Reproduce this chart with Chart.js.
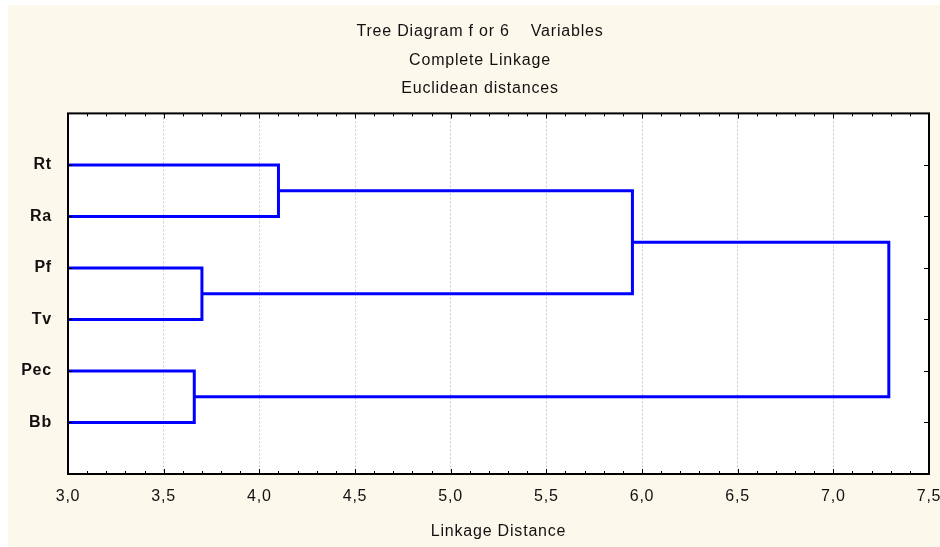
<!DOCTYPE html>
<html>
<head>
<meta charset="utf-8">
<title>Tree Diagram</title>
<script src="https://cdn.jsdelivr.net/npm/chart.js@4.4.1/dist/chart.umd.min.js"></script>
<style>
html, body { margin: 0; padding: 0; background: #fff; }
canvas { display: block; }
</style>
</head>
<body>
<canvas id="tree-chart" width="940" height="547"></canvas>
<script>
// leaves, top to bottom
var leaves = ['Rt', 'Ra', 'Pf', 'Tv', 'Pec', 'Bb'];
// merges: cluster ids 0-5 are leaves, 6+ are earlier merges in order
var mergeLeft = [0, 2, 4, 6, 9];
var mergeRight = [1, 3, 5, 7, 8];
var mergeHeight = [4.10, 3.70, 3.66, 5.95, 7.29];
var xTickValues = [3.0, 3.5, 4.0, 4.5, 5.0, 5.5, 6.0, 6.5, 7.0, 7.5];

var xMin = xTickValues[0];
var xMax = xTickValues[xTickValues.length - 1];
var FONT = '"Liberation Sans", Arial, sans-serif';

// node positions (distance, row)
var nodeX = [], nodeY = [];
leaves.forEach(function (l, i) { nodeX.push(xMin); nodeY.push(i + 1); });

var datasets = [];
for (var k = 0; k < mergeHeight.length; k++) {
    var a = mergeLeft[k], b = mergeRight[k], h = mergeHeight[k];
    datasets.push({
        data: [
            {x: nodeX[a], y: nodeY[a]},
            {x: h, y: nodeY[a]},
            {x: h, y: nodeY[b]},
            {x: nodeX[b], y: nodeY[b]}
        ],
        borderColor: '#0000ff',
        borderWidth: 3,
        pointRadius: 0,
        tension: 0,
        fill: false,
        borderJoinStyle: 'miter'
    });
    nodeX.push(h);
    nodeY.push((nodeY[a] + nodeY[b]) / 2);
}

var framePlugin = {
    id: 'frame',
    beforeLayout: function (chart) {
        chart.ctx.letterSpacing = '0.8px';
    },
    beforeDraw: function (chart) {
        var c = chart.ctx, area = chart.chartArea;
        c.letterSpacing = '0.8px';
        c.save();
        c.fillStyle = '#ffffff';
        c.fillRect(0, 0, chart.width, chart.height);
        c.fillStyle = '#fdf8ec';
        c.fillRect(8, 5, chart.width - 8, chart.height - 5);
        c.fillStyle = '#ffffff';
        c.fillRect(area.left, area.top, area.right - area.left, area.bottom - area.top);
        c.restore();
    },
    afterDatasetsDraw: function (chart) {
        var c = chart.ctx, area = chart.chartArea;
        var xs = chart.scales.x, ys = chart.scales.y;
        c.save();
        c.strokeStyle = '#000';
        c.lineWidth = 1;
        c.beginPath();
        // minor and major ticks on top and bottom, pointing in
        var n = Math.round((xMax - xMin) * 10);
        for (var i = 0; i <= n; i++) {
            var px = Math.round(xs.getPixelForValue(xMin + i / 10)) + 0.5;
            var len = (i % 5 === 0) ? 5 : 3;
            c.moveTo(px, area.top); c.lineTo(px, area.top + len);
            c.moveTo(px, area.bottom); c.lineTo(px, area.bottom - len);
        }
        leaves.forEach(function (l, j) {
            var py = Math.round(ys.getPixelForValue(j + 1)) + 0.5;
            c.moveTo(area.left, py); c.lineTo(area.left + 4, py);
            c.moveTo(area.right, py); c.lineTo(area.right - 5, py);
        });
        c.stroke();
        c.lineWidth = 2;
        c.strokeRect(area.left, area.top, area.right - area.left, area.bottom - area.top);
        c.restore();
    }
};

var ctx = document.getElementById('tree-chart').getContext('2d');
var myChart = new Chart(ctx, {
    type: 'line',
    data: { datasets: datasets },
    plugins: [framePlugin],
    options: {
        responsive: false,
        animation: false,
        devicePixelRatio: 1,
        layout: { padding: { left: 20, right: 0, top: 0, bottom: 0 } },
        plugins: {
            legend: { display: false },
            tooltip: { enabled: false },
            title: {
                display: true,
                text: ['Tree Diagram f or 6    Variables', 'Complete Linkage', 'Euclidean distances'],
                color: '#111',
                font: { family: FONT, size: 16, weight: 'normal', lineHeight: 1.8 },
                padding: { top: 17, bottom: 10 }
            }
        },
        scales: {
            x: {
                type: 'linear',
                min: xMin,
                max: xMax,
                afterBuildTicks: function (scale) {
                    scale.ticks = xTickValues.map(function (v) { return {value: v}; });
                },
                afterFit: function (scale) {
                    scale.height = 73;
                    scale.paddingRight = 11;
                },
                ticks: {
                    color: '#111',
                    padding: 13,
                    maxRotation: 0,
                    font: { family: FONT, size: 16 },
                    callback: function (v) { return v.toFixed(1).replace('.', ','); }
                },
                grid: { color: '#c8c8c8', lineWidth: 1, drawTicks: false },
                border: { display: false, dash: [2, 2] },
                title: {
                    display: true,
                    text: 'Linkage Distance',
                    color: '#111',
                    font: { family: FONT, size: 16 },
                    padding: { top: 0, bottom: 6 }
                }
            },
            y: {
                type: 'linear',
                min: 0,
                max: leaves.length + 1,
                reverse: true,
                afterBuildTicks: function (scale) {
                    scale.ticks = leaves.map(function (l, i) { return {value: i + 1}; });
                },
                afterFit: function (scale) {
                    scale.width = 48;
                },
                ticks: {
                    color: '#111',
                    padding: 16,
                    font: { family: FONT, size: 16, weight: 'bold' },
                    callback: function (v) { return leaves[v - 1] || ''; }
                },
                grid: { display: false, drawTicks: false },
                border: { display: false }
            }
        }
    }
});
</script>
</body>
</html>
